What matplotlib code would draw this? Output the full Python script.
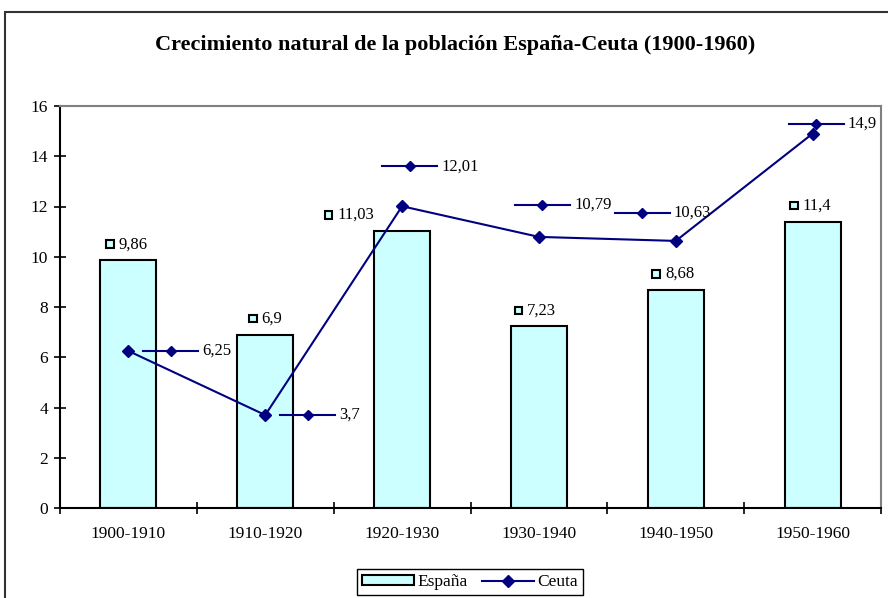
import matplotlib
matplotlib.use('Agg')
import matplotlib.pyplot as plt
from matplotlib.lines import Line2D
from matplotlib.patches import Rectangle
from matplotlib.offsetbox import AnnotationBbox, DrawingArea, TextArea, HPacker

periods = ['1900-1910', '1910-1920', '1920-1930', '1930-1940', '1940-1950', '1950-1960']
espana = [9.86, 6.9, 11.03, 7.23, 8.68, 11.4]
ceuta = [6.25, 3.7, 12.01, 10.79, 10.63, 14.9]

plt.rcParams['font.family'] = ['Liberation Serif', 'DejaVu Serif']

NAVY = '#000080'
CYAN = '#CCFFFF'

# where excel dropped the data labels, in pixels from the point
ceuta_lbl_off = [(15, 0), (15, 0), (-20, 40), (-24, 32), (-61, 28), (-24, 10)]
espana_lbl_off = [(-23, 16), (-17, 16), (-78, 16), (-25, 16), (-24, 16), (-23, 16)]


def fmt(v):
    return f'{v:g}'.replace('.', ',')


def ceuta_key():
    w, h = 55 * 0.72, 10 * 0.72
    da = DrawingArea(w, h, 0, 0)
    da.add_artist(Line2D([0, w], [h / 2, h / 2], color=NAVY, lw=1.5))
    da.add_artist(Line2D([w / 2], [h / 2], marker='D', ms=4.6, color=NAVY, ls=''))
    return da


def espana_key():
    s = 9 * 0.72
    da = DrawingArea(s, s, 0, 0)
    da.add_artist(Rectangle((0.5, 0.5), s - 1, s - 1, facecolor=CYAN, edgecolor='black', lw=1.5))
    return da


fig = plt.figure(figsize=(8.88, 5.98), dpi=100)
ax = fig.add_axes([60 / 888, 1 - 508 / 598, (881 - 60) / 888, (508 - 106) / 598])

x = list(range(len(periods)))
bars = ax.bar(x, espana, width=0.41, color=CYAN, edgecolor='black', linewidth=1.5, label='España', zorder=2)
line, = ax.plot(x, ceuta, color=NAVY, lw=1.5, marker='D', ms=6.6, label='Ceuta', zorder=3)

ax.set_xlim(-0.5, len(periods) - 0.5)
ax.set_ylim(0, 16)
ax.set_yticks(range(0, 17, 2))
ax.set_xticks([i - 0.5 for i in range(len(periods) + 1)])
ax.set_xticklabels([])
ax.set_xticks(x, minor=True)
ax.set_xticklabels(periods, minor=True)
ax.tick_params(axis='x', which='major', direction='inout', length=9, width=1.2)
ax.tick_params(axis='x', which='minor', length=0, pad=13, labelsize=12.5)
ax.tick_params(axis='y', direction='inout', length=9, width=1.2, pad=4, labelsize=12.5)

for s in ['left', 'bottom']:
    ax.spines[s].set_color('black')
    ax.spines[s].set_linewidth(1.5)
for s in ['top', 'right']:
    ax.spines[s].set_color('#808080')
    ax.spines[s].set_linewidth(1.5)

# data labels
for i, v in enumerate(ceuta):
    box = HPacker(children=[ceuta_key(), TextArea(fmt(v), textprops=dict(fontsize=12))],
                  sep=3, align='center', pad=0)
    ab = AnnotationBbox(box, (x[i], v), xybox=ceuta_lbl_off[i], xycoords='data',
                        boxcoords='offset pixels', box_alignment=(0, 0.5), frameon=False, pad=0)
    ab.set_zorder(4)
    ax.add_artist(ab)

for i, v in enumerate(espana):
    box = HPacker(children=[espana_key(), TextArea(fmt(v), textprops=dict(fontsize=12))],
                  sep=3, align='center', pad=0)
    ab = AnnotationBbox(box, (x[i], v), xybox=espana_lbl_off[i], xycoords='data',
                        boxcoords='offset pixels', box_alignment=(0, 0.5), frameon=False, pad=0)
    ab.set_zorder(4)
    ax.add_artist(ab)

fig.text(455 / 888, 1 - 45 / 598, 'Crecimiento natural de la población España-Ceuta (1900-1960)',
         ha='center', va='center', fontsize=16, fontweight='bold')

leg = fig.legend(handles=[bars, line], labels=['España', 'Ceuta'],
                 loc='upper center', bbox_to_anchor=(470 / 888, 1 - 569 / 598), ncol=2,
                 frameon=True, fancybox=False, edgecolor='black', framealpha=1, fontsize=12.5,
                 handlelength=3, handleheight=0.5, columnspacing=0.8, handletextpad=0.2,
                 borderpad=0.3, borderaxespad=0)
leg.get_frame().set_linewidth(1.0)

# chart area border
fig.add_artist(Rectangle((5 / 888, -0.05), 1.1, 1 - 12 / 598 + 0.05, transform=fig.transFigure,
                         fill=False, edgecolor='#333333', lw=1.5, clip_on=False))

fig.savefig('out.png', dpi=100)
